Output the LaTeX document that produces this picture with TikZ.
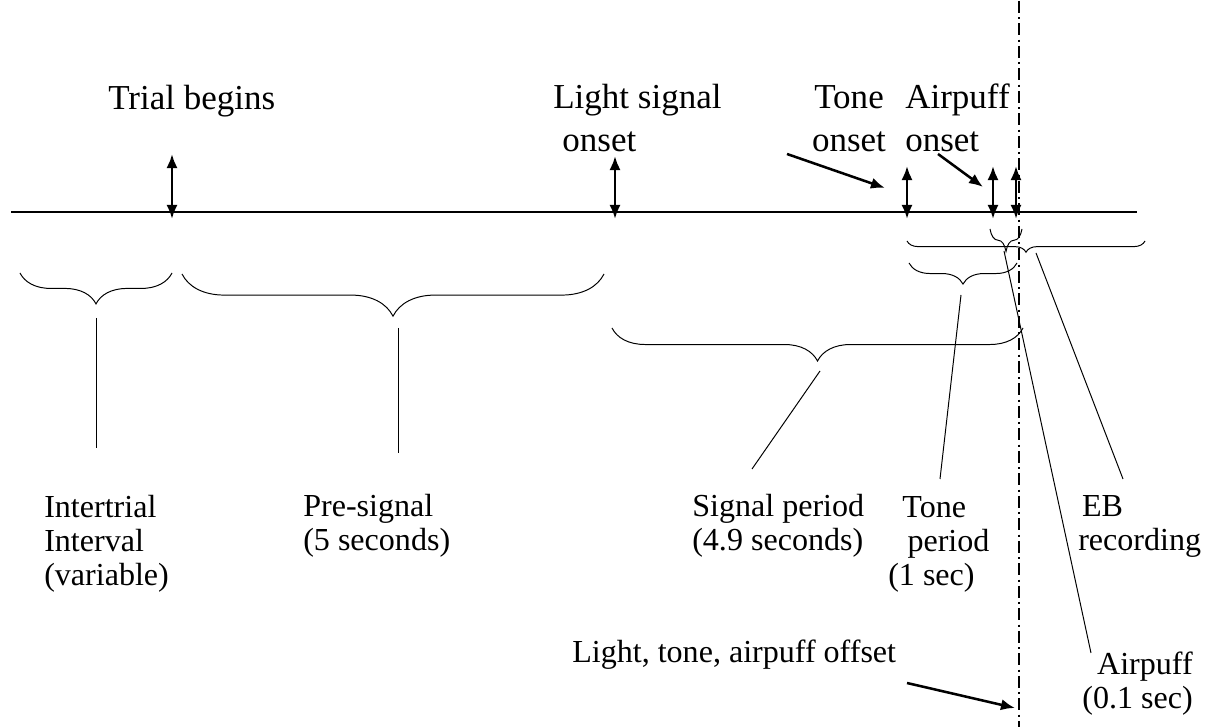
\documentclass[tikz,border=0pt]{standalone}
\usepackage{fontspec}
\setmainfont{Liberation Serif}
\usetikzlibrary{arrows.meta,decorations.pathreplacing}

\begin{document}
\begin{tikzpicture}[x=0.025cm,y=-0.025cm,
    event arrow/.style={line width=2pt,{Latex[length=10pt,width=8pt]}-{Latex[length=10pt,width=8pt]}},
    pointer/.style={line width=1.8pt,-{Latex[length=10pt,width=8pt]}},
    span brace/.style={decorate,decoration={brace,mirror,amplitude=#1},line width=0.7pt},
    leader/.style={line width=0.7pt},
    top label/.style={inner sep=0pt,font=\fontsize{24.9}{30.6}\selectfont},
    low label/.style={inner sep=0pt,align=left,anchor=base west,font=\fontsize{22.8}{24.5}\selectfont}]
    \fill[white] (0,0) rectangle (1209,726);

    % time axis
    \coordinate (axisL) at (11,211);
    \coordinate (axisR) at (1137,211);
    \draw[line width=1.6pt] (axisL) -- (axisR);

    % event markers on the axis
    \coordinate (trialTop) at (172,153);
    \coordinate (trialBot) at (172,218);
    \coordinate (lightTop) at (615,155);
    \coordinate (lightBot) at (615,218);
    \coordinate (toneTop) at (907,165);
    \coordinate (toneBot) at (907,218);
    \coordinate (puffTop) at (993,165);
    \coordinate (puffBot) at (993,218);
    \coordinate (offTop) at (1016,165);
    \coordinate (offBot) at (1016,218);
    \draw[event arrow] (trialBot) -- (trialTop);
    \draw[event arrow] (lightBot) -- (lightTop);
    \draw[event arrow] (toneBot) -- (toneTop);
    \draw[event arrow] (puffBot) -- (puffTop);
    \draw[event arrow] (offBot) -- (offTop);

    % offset line
    \coordinate (cutTop) at (1019,0);
    \coordinate (cutBot) at (1019,726);
    \draw[line width=1.4pt,dash pattern=on 8.5pt off 3pt on 1.5pt off 3pt] (cutTop) -- (cutBot);

    % labels above the axis
    \node[top label,anchor=base west] (trial) at (108,109) {Trial begins};
    \node[top label,anchor=base west,align=left] (light) at (553,151) {Light signal\\\hspace{0.26em}onset};
    \node[top label,anchor=base,align=center] (tone) at (849,151) {Tone\\onset};
    \node[top label,anchor=base west,align=left] (puff) at (905,151) {Airpuff\\onset};

    \coordinate (toneFrom) at (787,153);
    \coordinate (toneTo) at (885,187);
    \coordinate (puffFrom) at (938,153);
    \coordinate (puffTo) at (983,186);
    \draw[pointer] (toneFrom) -- (toneTo);
    \draw[pointer] (puffFrom) -- (puffTo);

    % braces under the axis
    \coordinate (itiL) at (20,272);
    \coordinate (itiR) at (172,272);
    \coordinate (preL) at (182,273);
    \coordinate (preR) at (604,273);
    \coordinate (sigL) at (612,327);
    \coordinate (sigR) at (1023,327);
    \coordinate (ebL) at (907,240);
    \coordinate (ebR) at (1145,240);
    \coordinate (tpL) at (909,262);
    \coordinate (tpR) at (1017,262);
    \coordinate (apL) at (990,228);
    \coordinate (apR) at (1022,228);
    \draw[span brace=22pt] (itiL) -- (itiR);
    \draw[span brace=30pt] (preL) -- (preR);
    \draw[span brace=23.5pt] (sigL) -- (sigR);
    \draw[span brace=8pt] (ebL) -- (ebR);
    \draw[span brace=15pt] (tpL) -- (tpR);
    \draw[span brace=16pt] (apL) -- (apR);

    % labels below the axis
    \node[low label] (iti) at (44,585) {Intertrial\\Interval\\(variable)};
    \node[low label] (pre) at (303,550) {Pre-signal\\(5 seconds)};
    \node[low label] (sig) at (692,550) {Signal period\\(4.9 seconds)};
    \node[low label] (toneper) at (888,585) {\hspace{0.44em}Tone\\\hspace{0.6em}period\\(1 sec)};
    \node[low label] (eb) at (1078,550) {\hspace{0.12em}EB\\recording};
    \node[low label,align=right,anchor=base east] (puffper) at (1193,708) {Airpuff\\(0.1 sec)};
    \node[low label] (offset) at (572,662) {Light, tone, airpuff offset};

    % leaders from braces to labels
    \coordinate (itiTip) at (96,317);
    \coordinate (itiEnd) at (96,447);
    \coordinate (preTip) at (398,327);
    \coordinate (preEnd) at (398,452);
    \coordinate (sigTip) at (820,370);
    \coordinate (sigEnd) at (752,468);
    \coordinate (tpTip) at (961,294);
    \coordinate (tpEnd) at (940,478);
    \coordinate (ebTip) at (1036,252);
    \coordinate (ebEnd) at (1123,478);
    \coordinate (apTip) at (1004,250);
    \coordinate (apEnd) at (1091,652);
    \draw[leader] (itiTip) -- (itiEnd);
    \draw[leader] (preTip) -- (preEnd);
    \draw[leader] (sigTip) -- (sigEnd);
    \draw[leader] (tpTip) -- (tpEnd);
    \draw[leader] (ebTip) -- (ebEnd);
    \draw[leader] (apTip) -- (apEnd);

    \coordinate (offFrom) at (907,682);
    \coordinate (offTo) at (1015,707);
    \draw[pointer] (offFrom) -- (offTo);
\end{tikzpicture}
\end{document}
